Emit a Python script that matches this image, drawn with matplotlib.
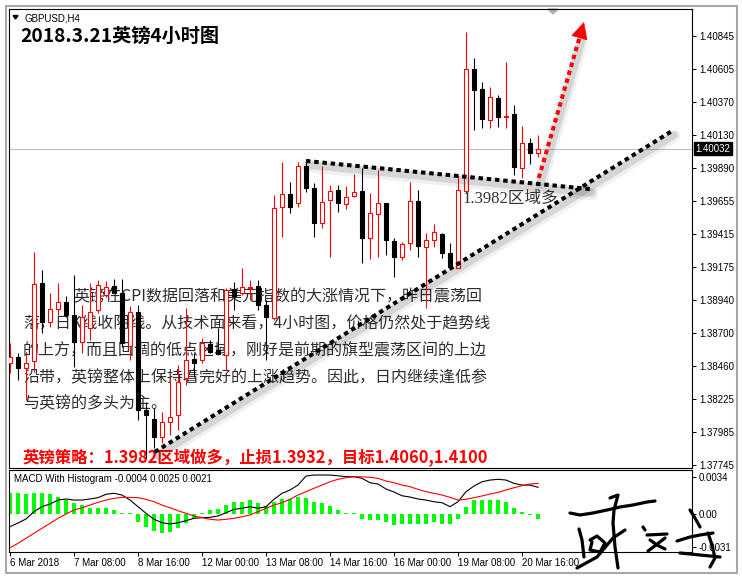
import numpy as np
import matplotlib
matplotlib.use("Agg")
from matplotlib import pyplot as plt
from matplotlib.patches import Rectangle, Polygon, FancyArrowPatch
import matplotlib.transforms as mtransforms

plt.rcParams['font.family'] = ['Liberation Sans', 'Noto Sans CJK SC']
CJK = ['Noto Sans CJK SC', 'DejaVu Sans']

symbol = "GBPUSD,H4"
title = "2018.3.21英镑4小时图"

# OHLC of the H4 bars, 6 Mar 00:00 .. 20 Mar 
opens = [1.38484, 1.38527, 1.38448, 1.38499, 1.39062, 1.38780, 1.38874, 1.38925, 1.38831, 1.38636,
         1.38737, 1.38867, 1.38975, 1.39040, 1.38990, 1.38607, 1.38852, 1.38145, 1.38080, 1.37950,
         1.38058, 1.38109, 1.38376, 1.38513, 1.38506, 1.38621, 1.38578, 1.38542, 1.39018, 1.38990,
         1.39026, 1.39040, 1.38903, 1.38809, 1.39610, 1.39704, 1.39639, 1.39906, 1.39748, 1.39495,
         1.39661, 1.39733, 1.39632, 1.39690, 1.39726, 1.39387, 1.39560, 1.39639, 1.39365, 1.39249,
         1.39351, 1.39654, 1.39322, 1.39372, 1.39416, 1.39278, 1.39170, 1.39726, 1.40607, 1.40462,
         1.40239, 1.40397, 1.40260, 1.40282, 1.39892, 1.40073, 1.40000]
highs = [1.38629, 1.38556, 1.38564, 1.39286, 1.39156, 1.38990, 1.39062, 1.38968, 1.39119, 1.38903,
         1.39062, 1.39083, 1.39076, 1.39091, 1.39091, 1.38896, 1.38903, 1.38203, 1.38159, 1.38130,
         1.38376, 1.38470, 1.38881, 1.38556, 1.38665, 1.38650, 1.38737, 1.39026, 1.39069, 1.39170,
         1.39083, 1.39083, 1.38939, 1.39697, 1.39935, 1.39791, 1.39935, 1.39950, 1.39784, 1.39906,
         1.39769, 1.39769, 1.39762, 1.39849, 1.39892, 1.39712, 1.39878, 1.39639, 1.39387, 1.39358,
         1.39791, 1.39733, 1.39423, 1.39488, 1.39423, 1.39351, 1.39841, 1.40874, 1.40686, 1.40513,
         1.40477, 1.40419, 1.40657, 1.40347, 1.40195, 1.40109, 1.40130]
lows = [1.38412, 1.38361, 1.38217, 1.38419, 1.38701, 1.38744, 1.38831, 1.38816, 1.38455, 1.38556,
        1.38650, 1.38845, 1.38961, 1.38990, 1.38600, 1.38506, 1.38073, 1.37798, 1.37870, 1.37907,
        1.37964, 1.38000, 1.38325, 1.38383, 1.38484, 1.38556, 1.38542, 1.38434, 1.38867, 1.38975,
        1.38939, 1.38867, 1.38506, 1.38795, 1.39394, 1.39567, 1.39610, 1.39719, 1.39394, 1.39459,
        1.39249, 1.39574, 1.39596, 1.39683, 1.39206, 1.39235, 1.39249, 1.39264, 1.39105, 1.39228,
        1.39300, 1.39249, 1.38881, 1.39322, 1.39242, 1.39170, 1.39170, 1.39712, 1.40166, 1.40181,
        1.40181, 1.40188, 1.40181, 1.39841, 1.39820, 1.39921, 1.39971]
closes = [1.38527, 1.38448, 1.38484, 1.39055, 1.38780, 1.38874, 1.38925, 1.38831, 1.38636, 1.38816,
          1.38852, 1.39047, 1.39033, 1.38990, 1.38629, 1.38852, 1.38145, 1.38109, 1.37950, 1.38058,
          1.38094, 1.38347, 1.38506, 1.38484, 1.38629, 1.38564, 1.38549, 1.39011, 1.38968, 1.39033,
          1.39033, 1.38903, 1.38816, 1.39603, 1.39704, 1.39610, 1.39906, 1.39748, 1.39495, 1.39647,
          1.39726, 1.39639, 1.39683, 1.39719, 1.39387, 1.39567, 1.39639, 1.39372, 1.39249, 1.39343,
          1.39654, 1.39329, 1.39372, 1.39430, 1.39278, 1.39177, 1.39733, 1.40607, 1.40455, 1.40246,
          1.40405, 1.40260, 1.40267, 1.39899, 1.40073, 1.40000, 1.40029]

# MACD panel, in units of 1e-4
macd_e4 = [-12.3, -8.9, -5.1, 1.7, 6.4, 8.9, 12.6, 13.6, 12.6, 12.6,
           13.6, 14.8, 18.0, 18.9, 17.3, 12.6, 6.4, 0.2, -5.4, -8.6,
           -9.8, -8.6, -6.7, -4.5, -3.9, -3.6, -2.3, 0.7, 3.9, 4.9,
           6.4, 4.9, 6.4, 13.3, 18.9, 22.0, 26.6, 35.1, 36.0, 36.0,
           36.0, 35.3, 34.4, 34.4, 32.9, 28.8, 27.6, 22.9, 20.1, 16.6,
           15.4, 13.6, 12.6, 11.0, 10.1, 6.4, 11.0, 20.4, 25.7, 29.7,
           31.3, 32.0, 31.3, 28.2, 26.6, 26.6, 24.5]
signal_e4 = [-32.0, -27.9, -23.2, -18.5, -13.8, -9.2, -4.5, -0.5, 3.3, 5.4,
             7.9, 10.5, 12.6, 14.2, 15.1, 15.1, 14.8, 13.3, 11.0, 7.9,
             5.4, 2.6, 0.2, -2.3, -3.9, -5.4, -6.1, -5.4, -4.5, -3.0,
             -1.4, 1.7, 4.9, 7.9, 10.1, 13.3, 17.3, 20.4, 23.6, 26.6,
             29.7, 32.0, 33.5, 34.4, 34.4, 33.8, 32.9, 30.4, 28.8, 26.6,
             25.1, 22.6, 20.4, 18.9, 17.3, 15.1, 12.6, 13.3, 14.8, 16.4,
             18.2, 19.8, 22.0, 24.1, 26.0, 27.6, 28.2]
hist_e4 = [19.6, 19.6, 18.7, 19.6, 19.6, 17.8, 15.9, 13.1, 9.4, 7.5,
           5.6, 5.6, 4.7, 3.7, 0.9, 0.9, -8.1, -12.6, -16.4, -18.2,
           -17.3, -13.6, -8.9, -4.2, 0.9, 3.3, 4.2, 7.9, 10.8, 10.8,
           12.6, 9.8, 7.0, 10.8, 13.6, 13.6, 15.4, 14.5, 10.8, 9.8,
           7.0, 3.3, 0.9, 0.9, -5.1, -6.1, -6.1, -8.4, -11.2, -9.4,
           -9.4, -9.4, -9.4, -7.5, -9.4, -9.4, -4.7, 6.5, 12.2, 12.2,
           13.1, 12.2, 11.2, 4.7, 1.4, -1.5, -4.7]
macd_caption = "MACD With Histogram -0.0004 0.0025 0.0021"

date_ticks = [0, 8, 16, 24, 32, 40, 48, 56, 64]
date_labels = ["6 Mar 2018", "7 Mar 08:00", "8 Mar 16:00", "12 Mar 00:00", "13 Mar 08:00",
               "14 Mar 16:00", "16 Mar 00:00", "19 Mar 08:00", "20 Mar 16:00"]
price_ticks = [1.40845, 1.40605, 1.40370, 1.40130, 1.39890, 1.39655, 1.39415,
               1.39175, 1.38940, 1.38700, 1.38460, 1.38225, 1.37985, 1.37745]
last_price = 1.40032
macd_ticks = [0.0034, 0.0, -0.0031]
macd_tick_labels = ["0.0034", "0.00", "-0.0031"]

# hand drawn lines: (bar index, price)
upper_line = ([37.0, 72.5], [1.39943, 1.39740])
lower_line = ([18.1, 82.75], [1.37842, 1.40159])
target_arrow = ([66.1, 71.75], [1.39820, 1.40946])
zone_label = "1.3982区域多"
zone_pos = (56.6, 1.39668)

comment_lines = ["英镑在CPI数据回落和美元指数的大涨情况下，昨日震荡回",
                 "落，日K线收阴线。从技术面来看，4小时图，价格仍然处于趋势线",
                 "的上方，而且回调的低点区域，刚好是前期的旗型震荡区间的上边",
                 "沿带，英镑整体上保持着完好的上涨趋势。因此，日内继续逢低参",
                 "与英镑的多头为主。"]
strategy = "英镑策略：1.3982区域做多，止损1.3932，目标1.4060,1.4100"

W, H = 742, 580


def fig_rect(x0, y0, x1, y1):
    return [x0 / W, 1 - y1 / H, (x1 - x0) / W, (y1 - y0) / H]


fig = plt.figure(figsize=(W / 100, H / 100), dpi=100)
fig.patch.set_facecolor("white")
ax = fig.add_axes(fig_rect(9, 9, 692, 468))
axm = fig.add_axes(fig_rect(9, 470, 692, 552))

n = len(opens)
idx = np.arange(n)
o, h, l, c = map(np.array, (opens, highs, lows, closes))
up = c >= o
col = np.where(up, "#ff0000", "#000000")

# candles
ax.vlines(idx, l, h, colors=col, lw=0.8, zorder=3)
ax.bar(idx, np.abs(c - o), bottom=np.minimum(o, c), width=0.55,
       color=np.where(up, "white", "black"), edgecolor=col, linewidth=0.8, zorder=4)

ax.axhline(last_price, color="#c0c0c0", lw=0.8, zorder=1)
ax.set_xlim(-0.125, 85.25)
ax.set_ylim(1.37726, 1.41040)
ax.set_xticks([])
ax.yaxis.tick_right()
ax.set_yticks(price_ticks)
ax.set_yticklabels([f"{v:.5f}" for v in price_ticks])
ax.tick_params(axis="y", length=3, width=0.7, pad=2, labelsize=7)
for s in ax.spines.values():
    s.set_linewidth(0.8)

ax.annotate(f"{last_price:.5f}", xy=(1.0, last_price), xycoords=("axes fraction", "data"),
            xytext=(2.5, 0), textcoords="offset points", ha="left", va="center",
            fontsize=7, color="white",
            bbox=dict(boxstyle="square,pad=0.15", fc="black", ec="black"), annotation_clip=False)


# dotted trend lines with soft shadow
def dotted(xs, ys, color):
    for dx, dy, lw, a in [(2, -5, 9, 0.06), (2, -4, 5.5, 0.11)]:
        tr = mtransforms.offset_copy(ax.transData, fig=fig, x=dx, y=dy, units="dots")
        ax.plot(xs, ys, color="black", lw=lw, alpha=a, transform=tr, zorder=5,
                solid_capstyle="round")
    ax.plot(xs, ys, color=color, lw=2.9, linestyle=(0, (1.1, 0.95)),
            dash_capstyle="butt", zorder=6)


dotted(*upper_line, "black")
dotted(*lower_line, "black")
ax_, ay_ = target_arrow
base = (ax_[0] + 0.9 * (ax_[1] - ax_[0]), ay_[0] + 0.9 * (ay_[1] - ay_[0]))
dotted([ax_[0], base[0]], [ay_[0], base[1]], "#ff0000")
ax.add_patch(FancyArrowPatch(posA=base, posB=(ax_[1], ay_[1]),
                             arrowstyle="-|>,head_length=0.8,head_width=0.4",
                             mutation_scale=14, color="#ff0000", lw=0.5,
                             shrinkA=0, shrinkB=0, zorder=7))

ax.text(zone_pos[0], zone_pos[1], zone_label, family=["Liberation Serif", "Noto Sans CJK SC"],
        fontsize=12, color="#333333", ha="left", va="center", zorder=5)

# header texts
ax.add_patch(Polygon([(0.0059, 0.9858), (0.0132, 0.9858), (0.0095, 0.9782)],
                     closed=True, transform=ax.transAxes, color="black", clip_on=False))
ax.text(0.0234, 0.9797, symbol, transform=ax.transAxes, fontsize=7, ha="left", va="center")
ax.text(0.0161, 0.9412, title, transform=ax.transAxes, family=CJK, fontsize=13.8,
        fontweight="bold", ha="left", va="center")
ax.add_patch(Polygon([(0.789, 1.0), (0.804, 1.0), (0.7965, 0.989)], closed=True,
                     transform=ax.transAxes, color="#b0b0b0", clip_on=False))

line_x = [0.0937, 0.0205, 0.0205, 0.0205, 0.0205]
line_y = [0.3732, 0.3137, 0.2556, 0.1954, 0.1394]
for t, x, y in zip(comment_lines, line_x, line_y):
    ax.text(x, y, t, transform=ax.transAxes, family=CJK, fontsize=11.5,
            color="#2e2e2e", ha="left", va="center", zorder=1)
ax.text(0.0205, 0.0218, strategy, transform=ax.transAxes, family=CJK, fontsize=11.8,
        fontweight="bold", color="#ff0000", ha="left", va="center", zorder=2)

# MACD panel
axm.bar(idx, np.array(hist_e4) * 1e-4, width=0.4, color="#00ff00", zorder=2)
axm.plot(idx, np.array(macd_e4) * 1e-4, color="black", lw=0.8, zorder=3)
axm.plot(idx, np.array(signal_e4) * 1e-4, color="#ff0000", lw=0.8, zorder=3)
axm.set_xlim(-0.125, 85.25)
axm.set_ylim(-0.0036, 0.00407)
axm.yaxis.tick_right()
axm.set_yticks(macd_ticks)
axm.set_yticklabels(macd_tick_labels)
axm.tick_params(axis="y", length=3, width=0.7, pad=2, labelsize=7)
axm.set_xticks(date_ticks)
axm.set_xticklabels(date_labels, ha="left")
axm.tick_params(axis="x", length=3, width=0.7, pad=1.5, labelsize=7)
for s in axm.spines.values():
    s.set_linewidth(0.8)
axm.text(0.0073, 0.89, macd_caption, transform=axm.transAxes, fontsize=7,
         ha="left", va="center")

# outer window frame
fig.add_artist(Rectangle((6 / W, 1 - 573 / H), 731 / W, 567 / H, transform=fig.transFigure,
                         fill=False, edgecolor="#a8a8a8", lw=1.5))

# signature (rough pen strokes, figure pixels)
pix = mtransforms.Affine2D().scale(1 / W, -1 / H).translate(0, 1) + fig.transFigure
strokes = [
    [(570, 513), (580, 515), (593, 513), (607, 510), (620, 507), (633, 505), (647, 502), (655, 501)],
    [(610, 498), (618, 495), (614, 510), (613, 523), (615, 547), (618, 568)],
    [(579, 529), (582, 540), (584, 557)],
    [(590, 540), (597, 536), (605, 543), (600, 552), (590, 550), (592, 542)],
    [(577, 568), (597, 557), (613, 538), (625, 530)],
    [(643, 527), (645, 530)],
    [(647, 535), (667, 534)],
    [(650, 540), (657, 545), (665, 549)],
    [(665, 538), (656, 545), (648, 551)],
    [(677, 541), (690, 537), (700, 535), (713, 533)],
    [(690, 510), (695, 518), (700, 527)],
    [(708, 533), (712, 545), (715, 558), (710, 567)],
    [(680, 553), (700, 555), (720, 557)],
]
for st in strokes:
    xs, ys = zip(*st)
    fig.add_artist(plt.Line2D(xs, ys, transform=pix, color="black", lw=2.3,
                              solid_capstyle="round", solid_joinstyle="round"))

fig.savefig("out.png", dpi=100)
